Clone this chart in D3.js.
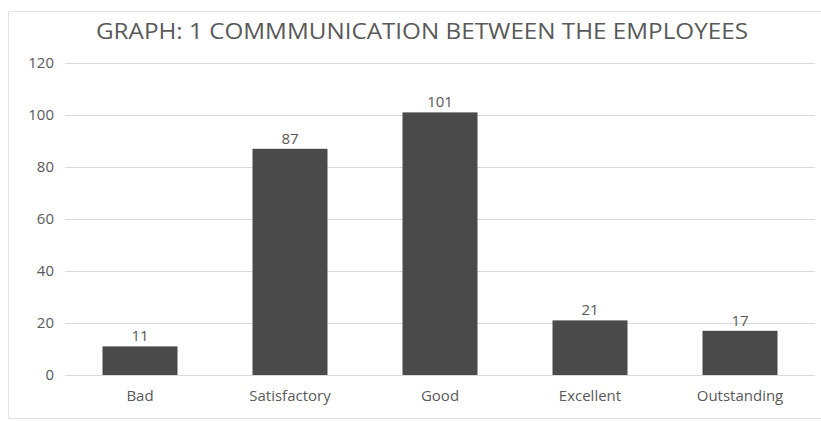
<!DOCTYPE html>
<html>
<head>
<meta charset="utf-8">
<script src="https://cdn.jsdelivr.net/npm/d3@7"></script>
<style>
  html, body { margin: 0; padding: 0; background: #fff; overflow: hidden; }
  svg { display: block; }
  text { font-family: "Open Sans", "Liberation Sans", sans-serif; fill: #595959; }
</style>
</head>
<body>
<div id="chart"></div>
<script>
// chart data
const categories = ['Bad', 'Satisfactory', 'Good', 'Excellent', 'Outstanding'];
const values = [11, 87, 101, 21, 17];
const yTicks = [0, 20, 40, 60, 80, 100, 120];
const title = 'GRAPH: 1 COMMMUNICATION BETWEEN THE EMPLOYEES';

const width = 821, height = 421;
const margin = {top: 63, right: 6, bottom: 46, left: 65};
const innerWidth = width - margin.left - margin.right;
const innerHeight = height - margin.top - margin.bottom;

const svg = d3.select('#chart').append('svg')
    .attr('width', width)
    .attr('height', height);

// outer frame (right side runs off the picture)
svg.append('path')
    .attr('d', `M${width},11.5H8.5V418.5H${width}`)
    .attr('fill', 'none')
    .attr('stroke', '#e3e3e3');

svg.append('text')
    .attr('x', 422)
    .attr('y', 39)
    .attr('text-anchor', 'middle')
    .attr('font-size', 22)
    .attr('textLength', 652)
    .attr('lengthAdjust', 'spacingAndGlyphs')
    .text(title);

const g = svg.append('g')
    .attr('transform', `translate(${margin.left},${margin.top})`);

const xScale = d3.scaleBand()
    .domain(categories)
    .range([0, innerWidth])
    .paddingInner(0.5)
    .paddingOuter(0.25);

const yScale = d3.scaleLinear()
    .domain([0, 120])
    .range([innerHeight, 0]);

const yAxis = d3.axisLeft(yScale)
    .tickValues(yTicks)
    .tickSize(-innerWidth)
    .tickPadding(11);

const yAxisG = g.append('g').call(yAxis)
    .attr('font-family', null)
    .attr('font-size', 15);
yAxisG.select('.domain').remove();
yAxisG.selectAll('line').attr('stroke', '#d9d9d9');
yAxisG.selectAll('text').attr('fill', '#595959');

const xAxis = d3.axisBottom(xScale)
    .tickSize(0)
    .tickPadding(15);

const xAxisG = g.append('g')
    .attr('transform', `translate(0,${innerHeight})`)
    .call(xAxis)
    .attr('font-family', null)
    .attr('font-size', 15);
xAxisG.select('.domain').remove();
xAxisG.selectAll('text').attr('fill', '#595959');

g.selectAll('.bar')
    .data(values)
    .enter().append('rect')
    .attr('class', 'bar')
    .attr('x', (d, i) => xScale(categories[i]))
    .attr('y', d => yScale(d))
    .attr('width', xScale.bandwidth())
    .attr('height', d => innerHeight - yScale(d))
    .attr('fill', '#4a4a4a');

g.selectAll('.val')
    .data(values)
    .enter().append('text')
    .attr('class', 'val')
    .attr('x', (d, i) => xScale(categories[i]) + xScale.bandwidth() / 2)
    .attr('y', d => yScale(d) - 5)
    .attr('text-anchor', 'middle')
    .attr('font-size', 15)
    .text(d => d);
</script>
</body>
</html>
